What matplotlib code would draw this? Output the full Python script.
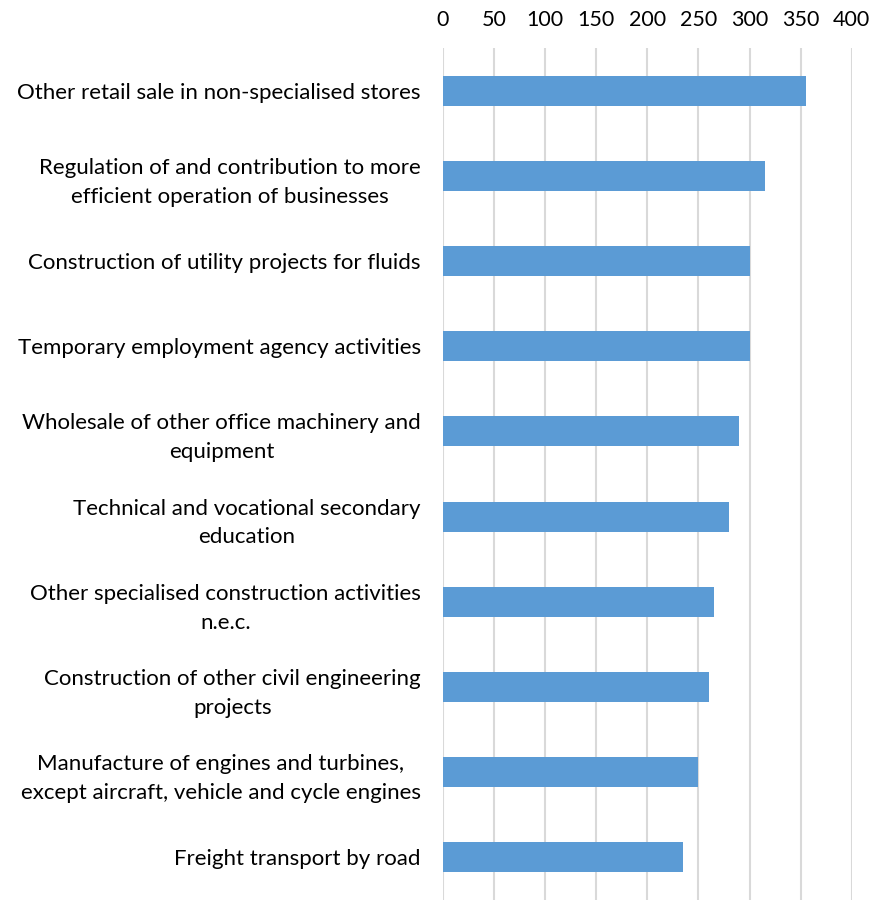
import matplotlib
matplotlib.use("Agg")
import matplotlib.pyplot as plt

plt.rcParams['font.family'] = ['Lato', 'DejaVu Sans']

activities = [
    "Other retail sale in non-specialised stores",
    "Regulation of and contribution to more\nefficient operation of businesses",
    "Construction of utility projects for fluids",
    "Temporary employment agency activities",
    "Wholesale of other office machinery and\nequipment",
    "Technical and vocational secondary\neducation",
    "Other specialised construction activities\nn.e.c.",
    "Construction of other civil engineering\nprojects",
    "Manufacture of engines and turbines,\nexcept aircraft, vehicle and cycle engines",
    "Freight transport by road",
]
counts = [355, 315, 300, 300, 290, 280, 265, 260, 250, 235]
xticks = [0, 50, 100, 150, 200, 250, 300, 350, 400]

fig = plt.figure(figsize=(8.9, 9.02), dpi=100)
ax = fig.add_axes([443 / 890, 2 / 902, (851.7 - 443) / 890, (902 - 48 - 2) / 902])

ypos = list(range(len(counts)))
ax.barh(ypos, counts, height=0.35, color='#5B9BD5', zorder=3)

ax.set_ylim(len(counts) - 0.5, -0.5)
ax.set_xlim(0, 400)
ax.set_xticks(xticks)
ax.set_yticks(ypos)
ax.set_yticklabels(activities)
for lab in ax.get_yticklabels():
    lab.set_multialignment('center')
    lab.set_linespacing(1.55)

ax.xaxis.tick_top()
ax.tick_params(axis='x', length=0, pad=13, labelsize=15.5, labelcolor='#000000')
ax.tick_params(axis='y', length=0, pad=16, labelsize=16, labelcolor='#000000')
ax.grid(axis='x', color='#D9D9D9', linewidth=1.5, zorder=0)
for s in ax.spines.values():
    s.set_visible(False)

fig.savefig("out.png", dpi=100)
